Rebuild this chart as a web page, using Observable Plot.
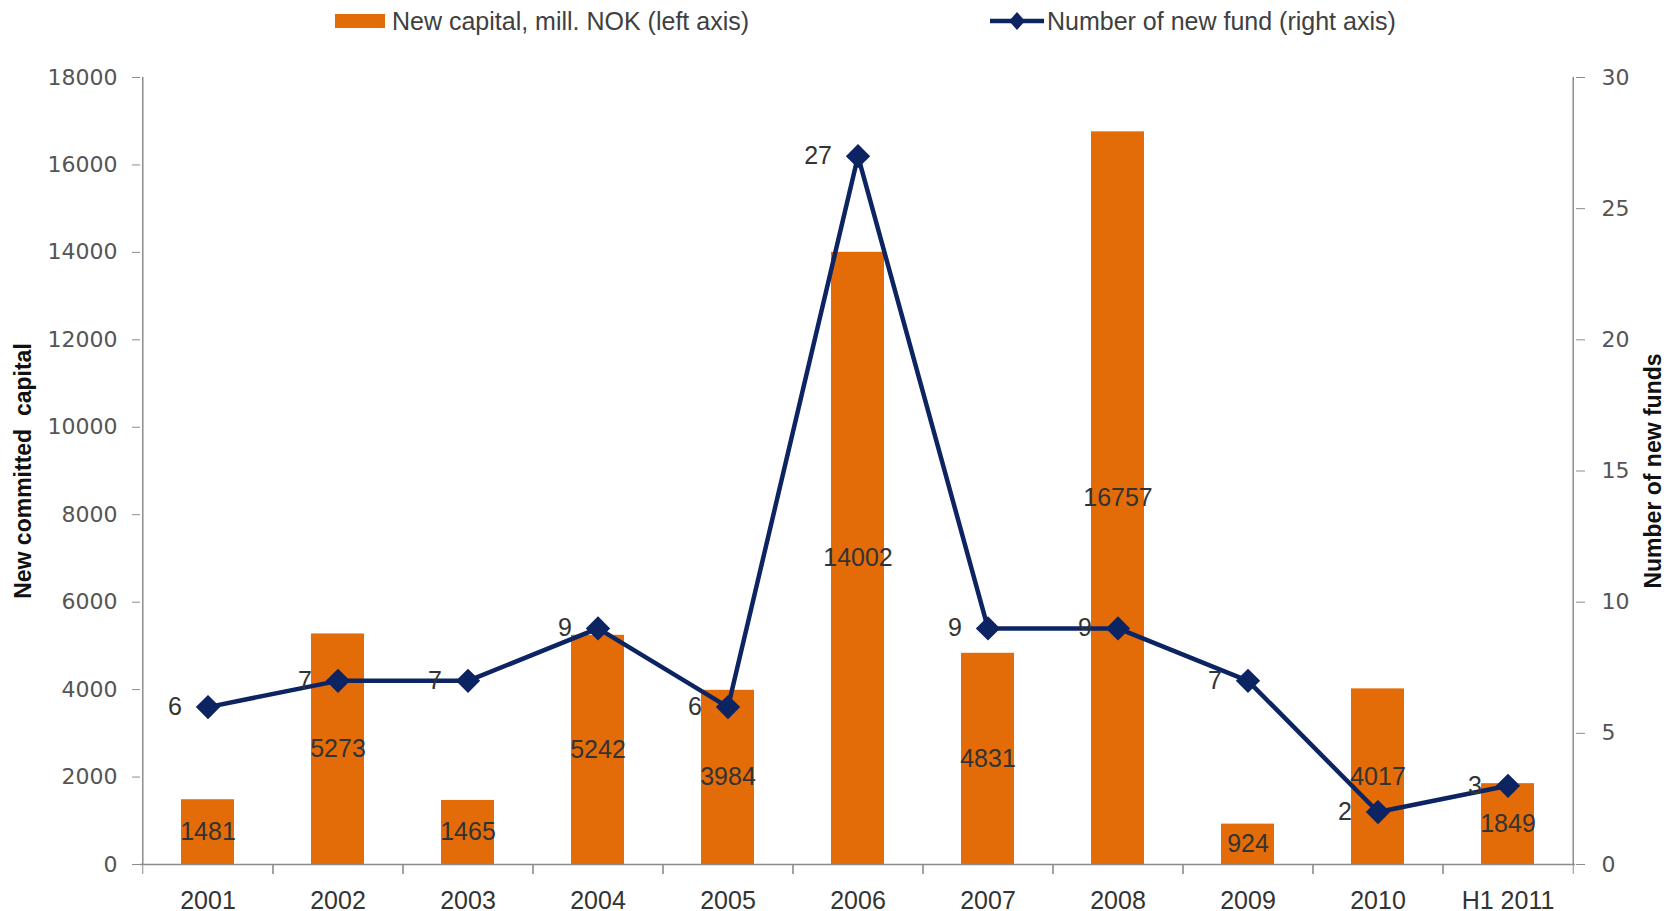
<!DOCTYPE html>
<html><head><meta charset="utf-8">
<script src="https://cdn.jsdelivr.net/npm/d3@7"></script>
<script src="https://cdn.jsdelivr.net/npm/@observablehq/plot@0.6"></script>
<style>
body{margin:0;background:#fff;}
#legend{position:relative;height:44px;width:1669px;font-family:"Liberation Sans Narrow","Arial Narrow",sans-serif;font-size:25px;color:#404040;}
.sw{position:absolute;top:14px;left:335px;width:50px;height:14px;background:#E36C09;}
.t1{position:absolute;left:392px;top:6px;line-height:30px;}
.t2{position:absolute;left:1047px;top:6px;line-height:30px;}
svg.ln{position:absolute;left:988px;top:9px;}
</style></head><body>
<div id="legend">
  <div class="sw"></div><div class="t1">New capital, mill. NOK (left axis)</div>
  <svg class="ln" width="58" height="24"><line x1="2" y1="12" x2="56" y2="12" stroke="#0d2463" stroke-width="4.5"/><path d="M29 3 L37 12 L29 21 L21 12 Z" fill="#0d2463"/></svg>
  <div class="t2">Number of new fund (right axis)</div>
</div>
<div id="chart"></div>
<script>
const categories = ["2001","2002","2003","2004","2005","2006","2007","2008","2009","2010","H1 2011"];
const capital = [1481,5273,1465,5242,3984,14002,4831,16757,924,4017,1849];
const funds = [6,7,7,9,6,27,9,9,7,2,3];
const leftTicks = [0,2000,4000,6000,8000,10000,12000,14000,16000,18000];
const rightTicks = [0,5,10,15,20,25,30];
const leftTitle = "New committed  capital";
const rightTitle = "Number of new funds";

const W = 1669, H = 867;
const mL = 140, mR = 94, mT = 33, mB = 47;
const step = (W - mL - mR) / categories.length;
const ratio = 18000 / 30;
const data = categories.map((c, i) => ({cat: c, capital: capital[i], funds: funds[i]}));
const axisColor = "#8c8c8c";
const narrow = '"Liberation Sans Narrow","Arial Narrow",sans-serif';

const chart = Plot.plot({
  width: W, height: H,
  marginLeft: mL, marginRight: mR, marginTop: mT, marginBottom: mB,
  style: {background: "white", overflow: "visible", fontFamily: narrow},
  x: {domain: categories, paddingInner: 0.59, paddingOuter: 0.295, label: null},
  y: {domain: [0, 18000], label: null},
  marks: [
    Plot.barY(data, {x: "cat", y: "capital", fill: "#E36C09"}),
    Plot.text(data, {x: "cat", y: d => d.capital / 2, text: d => String(d.capital), fill: "#333", fontSize: 25, fontFamily: narrow}),
    Plot.ruleY([0], {stroke: axisColor, strokeWidth: 1.5}),
    Plot.ruleX([categories[0]], {y1: 0, y2: 18000, dx: -step / 2, stroke: axisColor, strokeWidth: 1.5}),
    Plot.ruleX([categories[categories.length - 1]], {y1: 0, y2: 18000, dx: step / 2, stroke: axisColor, strokeWidth: 1.5}),
    Plot.axisY({ticks: leftTicks, tickSize: 8, tickPadding: 15, stroke: axisColor, fill: "#555", fontSize: 22, fontFamily: "DejaVu Sans", tickFormat: d => String(d), label: null}),
    Plot.axisY({anchor: "right", ticks: rightTicks.map(v => v * ratio), tickFormat: v => String(Math.round(v / ratio)), tickSize: 9, tickPadding: 17, stroke: axisColor, fill: "#555", fontSize: 22, fontFamily: "DejaVu Sans", label: null}),
    Plot.axisX({tickSize: 10, tickFormat: null, dx: -step / 2, stroke: axisColor, label: null}),
    Plot.axisX({tickSize: 10, tickFormat: null, dx: step / 2, stroke: axisColor, label: null}),
    Plot.axisX({tickSize: 0, tickPadding: 27, fontSize: 25, fill: "#333", fontFamily: narrow, label: null}),
    Plot.line(data, {x: "cat", y: d => d.funds * ratio, stroke: "#0d2463", strokeWidth: 4.5}),
    Plot.dot(data, {x: "cat", y: d => d.funds * ratio, symbol: "diamond2", r: 10, fill: "#0d2463", stroke: "#0d2463"}),
    Plot.text(data, {x: "cat", y: d => d.funds * ratio, text: d => String(d.funds), dx: -26, textAnchor: "end", fill: "#333", fontSize: 25, fontFamily: narrow}),
    Plot.text([leftTitle], {frameAnchor: "left", textAnchor: "middle", text: d => d, rotate: -90, dx: -117, fontWeight: "bold", fontSize: 23, fill: "#111", fontFamily: narrow}),
    Plot.text([rightTitle], {frameAnchor: "right", textAnchor: "middle", text: d => d, rotate: -90, dx: 78, fontWeight: "bold", fontSize: 23, fill: "#111", fontFamily: narrow})
  ]
});
document.getElementById("chart").appendChild(chart);
</script>
</body></html>
